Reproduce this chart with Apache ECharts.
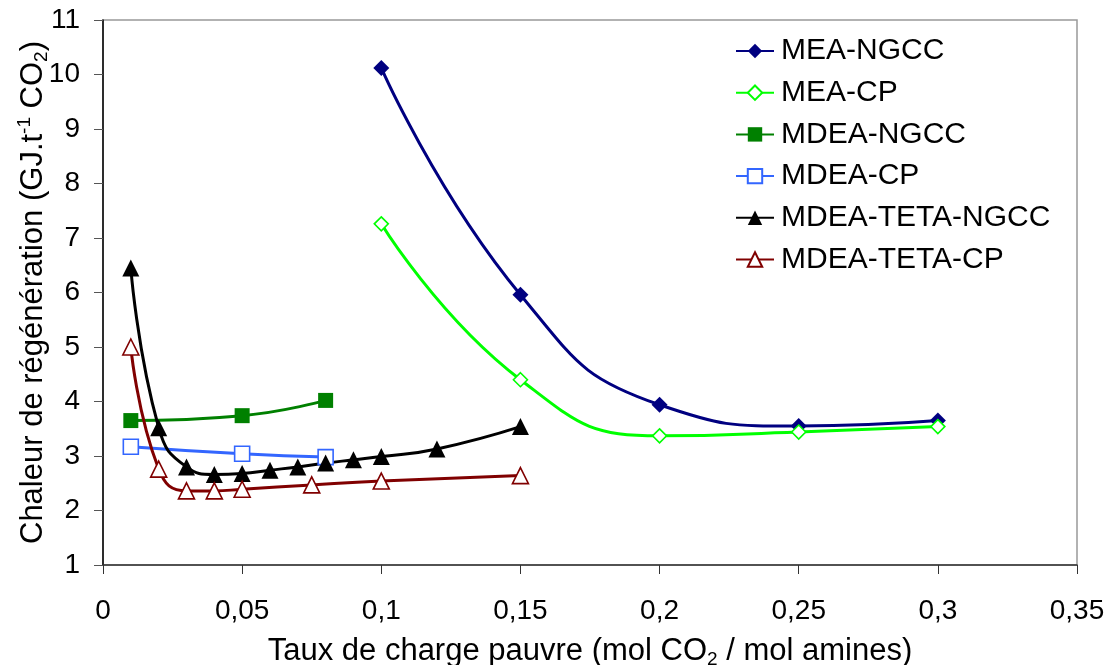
<!DOCTYPE html>
<html>
<head>
<meta charset="utf-8">
<script src="https://cdn.jsdelivr.net/npm/echarts@6/dist/echarts.min.js"></script>
<style>
html,body{margin:0;padding:0;background:#fff;}
#chart{width:1112px;height:665px;}
</style>
</head>
<body>
<div id="chart"></div>
<script>
// ---- data ----
var seriesNames = ['MEA-NGCC', 'MEA-CP', 'MDEA-NGCC', 'MDEA-CP', 'MDEA-TETA-NGCC', 'MDEA-TETA-CP'];

var meaNgccX = [0.10, 0.15, 0.20, 0.25, 0.30];
var meaNgccY = [10.12, 5.96, 3.94, 3.55, 3.65];

var meaCpX = [0.10, 0.15, 0.20, 0.25, 0.30];
var meaCpY = [7.26, 4.40, 3.37, 3.44, 3.54];

var mdeaNgccX = [0.01, 0.05, 0.08];
var mdeaNgccY = [3.65, 3.74, 4.02];

var mdeaCpX = [0.01, 0.05, 0.08];
var mdeaCpY = [3.17, 3.04, 2.98];

var tetaNgccX = [0.01, 0.02, 0.03, 0.04, 0.05, 0.06, 0.07, 0.08, 0.09, 0.10, 0.12, 0.15];
var tetaNgccY = [6.45, 3.52, 2.80, 2.66, 2.68, 2.74, 2.80, 2.87, 2.93, 2.99, 3.13, 3.54];

var tetaCpX = [0.01, 0.02, 0.03, 0.04, 0.05, 0.075, 0.10, 0.15];
var tetaCpY = [5.00, 2.76, 2.36, 2.36, 2.39, 2.47, 2.54, 2.64];

var xTicks = [0, 0.05, 0.1, 0.15, 0.2, 0.25, 0.3, 0.35];
var yTicks = [1, 2, 3, 4, 5, 6, 7, 8, 9, 10, 11];

// ---- chart ----
function zip(xs, ys) { return xs.map(function (x, i) { return [x, ys[i]]; }); }
var FONT = '"Liberation Sans", Arial, sans-serif';

var styles = [
  { color: '#000080', symbol: 'diamond', size: 16, hollow: false },
  { color: '#00ff00', symbol: 'diamond', size: 14, hollow: true },
  { color: '#008000', symbol: 'rect', size: 15, hollow: false },
  { color: '#3366ff', symbol: 'rect', size: 15, hollow: true },
  { color: '#000000', symbol: 'triangle', size: 17, hollow: false },
  { color: '#800000', symbol: 'triangle', size: 16, hollow: true }
];
var dataSets = [
  zip(meaNgccX, meaNgccY), zip(meaCpX, meaCpY),
  zip(mdeaNgccX, mdeaNgccY), zip(mdeaCpX, mdeaCpY),
  zip(tetaNgccX, tetaNgccY), zip(tetaCpX, tetaCpY)
];

var series = seriesNames.map(function (name, i) {
  var s = styles[i];
  return {
    name: name,
    type: 'line',
    data: dataSets[i],
    smooth: 0.5,
    symbol: s.symbol,
    symbolSize: s.size,
    showAllSymbol: true,
    lineStyle: { color: s.color, width: 3 },
    itemStyle: s.hollow
      ? { color: '#ffffff', borderColor: s.color, borderWidth: 1.6 }
      : { color: s.color, borderColor: s.color, borderWidth: 0 },
    emphasis: { disabled: true },
    animation: false
  };
});

function makeRich(fs) {
  return {
    t: { fontSize: fs, fontFamily: FONT, color: '#000', lineHeight: 36 },
    s: { fontSize: Math.round(fs * 0.62), fontFamily: FONT, color: '#000', lineHeight: 14, verticalAlign: 'bottom' },
    p: { fontSize: Math.round(fs * 0.62), fontFamily: FONT, color: '#000', lineHeight: 14, verticalAlign: 'top' }
  };
}

function fmt(v) { return String(+v.toFixed(2)).replace('.', ','); }

var chart = echarts.init(document.getElementById('chart'), null, { renderer: 'canvas' });
chart.setOption({
  backgroundColor: '#ffffff',
  animation: false,
  grid: {
    left: 103, right: 35, top: 20, bottom: 100,
    outerBoundsMode: 'none',
    containLabel: false,
    show: true, borderColor: '#999999', borderWidth: 1.5, backgroundColor: 'transparent'
  },
  legend: {
    orient: 'vertical',
    left: 730, top: 31,
    itemWidth: 38, itemHeight: 18, itemGap: 11.7,
    textStyle: { fontSize: 30, fontFamily: FONT, color: '#000', lineHeight: 30, padding: [0, 0, 0, 2] },
    data: seriesNames,
    selectedMode: false
  },
  xAxis: {
    type: 'value',
    min: xTicks[0], max: xTicks[xTicks.length - 1], interval: 0.05,
    name: '{t|Taux de charge pauvre (mol CO}{s|2}{t| / mol amines)}',
    nameLocation: 'middle', nameGap: 68,
    nameMoveOverlap: false,
    nameTextStyle: { rich: makeRich(31) },
    splitLine: { show: false },
    axisLine: { show: true, onZero: false, lineStyle: { color: '#333', width: 1.5 } },
    axisTick: { show: true, length: 9, inside: false, lineStyle: { color: '#333', width: 1 } },
    axisLabel: { fontSize: 28, fontFamily: FONT, color: '#000', margin: 32, formatter: fmt }
  },
  yAxis: {
    type: 'value',
    min: yTicks[0], max: yTicks[yTicks.length - 1], interval: 1,
    name: '{t|Chaleur de régénération (GJ.t}{p|-1}{t| CO}{s|2}{t|)}',
    nameLocation: 'middle', nameGap: 52,
    nameMoveOverlap: false,
    nameTextStyle: { rich: makeRich(31) },
    splitLine: { show: false },
    axisLine: { show: true, onZero: false, lineStyle: { color: '#000', width: 1.5 } },
    axisTick: { show: true, length: 9, inside: false, lineStyle: { color: '#555', width: 1 } },
    axisLabel: { fontSize: 28, fontFamily: FONT, color: '#000', margin: 23, formatter: fmt }
  },
  series: series
});
</script>
</body>
</html>
